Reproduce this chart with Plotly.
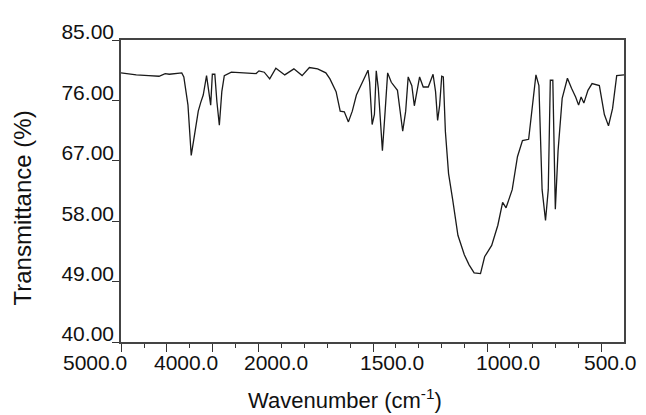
import plotly.graph_objects as go

# ---- data (wavenumber in cm-1, transmittance in %) ----
wavenumber = [5000, 4668, 4398, 4173, 4039, 3949, 3679, 3634, 3544, 3473, 3410, 3320, 3266, 3212,
              3140, 3095, 3050, 3014, 2960, 2915, 2862, 2808, 2754, 2601, 2242, 2062, 2000, 1977,
              1953, 1926, 1887, 1847, 1811, 1779, 1743, 1707, 1689, 1662, 1644, 1626, 1608, 1591,
              1573, 1549, 1522, 1515, 1504, 1494, 1486, 1477, 1459, 1447, 1436, 1420, 1393, 1370,
              1357, 1346, 1330, 1319, 1307, 1296, 1280, 1258, 1237, 1226, 1217, 1208, 1199, 1192,
              1183, 1169, 1151, 1128, 1100, 1079, 1057, 1029, 1011, 980, 953, 932, 917, 890, 867,
              845, 818, 800, 786, 773, 759, 744, 732, 723, 712, 701, 689, 671, 648, 630, 612, 599,
              588, 576, 558, 540, 508, 486, 468, 450, 432, 400]
transmittance = [80.1, 79.8, 79.7, 79.6, 80.0, 79.9, 80.1, 79.5, 75.3, 67.8, 70.5, 74.4, 75.7, 76.8,
                 79.7, 77.8, 75.3, 79.9, 79.9, 75.8, 72.3, 77.3, 79.7, 80.2, 80.1, 80.0, 80.4, 80.2,
                 79.2, 80.8, 79.8, 80.7, 79.7, 80.9, 80.7, 80.1, 79.2, 77.3, 74.4, 74.3, 72.8, 74.4,
                 76.8, 78.5, 80.5, 78.7, 72.4, 73.9, 80.4, 77.8, 68.5, 74.4, 80.1, 78.7, 77.5, 71.4,
                 74.4, 79.5, 78.2, 75.2, 77.3, 79.5, 78.0, 78.0, 79.9, 77.3, 73.0, 75.3, 79.6, 79.5,
                 71.4, 65.1, 61.2, 55.9, 53.0, 51.5, 50.3, 50.2, 52.7, 54.4, 57.4, 60.8, 60.0, 62.7,
                 67.6, 70.0, 70.2, 75.3, 79.8, 78.2, 62.7, 58.1, 62.7, 79.0, 79.0, 59.8, 68.5, 76.3,
                 79.3, 77.8, 76.5, 75.3, 76.5, 75.6, 77.5, 78.5, 78.2, 73.9, 72.2, 74.8, 79.7, 79.8]

x_major_ticks = [5000, 4000, 3000, 2000, 1500, 1000, 500]
x_tick_labels = ["5000.0", "4000.0", "", "2000.0", "1500.0", "1000.0", "500.0"]
x_minor_ticks = [4500, 3500, 2500, 1900, 1800, 1700, 1600, 1400, 1300, 1200, 1100,
                 900, 800, 700, 600]
y_ticks = [40, 49, 58, 67, 76, 85]
y_tick_labels = ["40.00", "49.00", "58.00", "67.00", "76.00", "85.00"]
x_title = "Wavenumber (cm<sup>-1</sup>)"
y_title = "Transmittance (%)"

# ---- split-scale wavenumber axis (scale changes at 2000 cm-1) ----
X_START = 5000.0
X_END = 400.0
BREAK = 2000.0
HI_SPAN = 1000.0            # cm-1 per axis unit above the break
LO_SPAN = 1000.0 / 4.96     # cm-1 per axis unit below the break


def axis_pos(wn):
    if wn >= BREAK:
        return (X_START - wn) / HI_SPAN
    return (X_START - BREAK) / HI_SPAN + (BREAK - wn) / LO_SPAN


xs = [axis_pos(w) for w in wavenumber]

# label offsets (px) relative to their tick, as in the reference
label_xshift = [-26, 19, 0, 17, 19, 21, 9]

FONT = "Liberation Sans, Arial, sans-serif"
TXT = "#111111"

fig = go.Figure()
fig.add_trace(go.Scatter(x=xs, y=transmittance, mode="lines",
                         line=dict(color="#1a1a1a", width=1.3),
                         hoverinfo="skip", showlegend=False))

for t, lab, dx in zip(x_major_ticks, x_tick_labels, label_xshift):
    if lab:
        fig.add_annotation(x=axis_pos(t), y=0, xref="x", yref="paper",
                           text=lab, showarrow=False, xanchor="center",
                           yanchor="middle", yshift=-20, xshift=dx,
                           font=dict(family=FONT, size=21, color=TXT))

fig.add_annotation(x=0.445, y=-0.188, xref="paper", yref="paper", text=x_title,
                   showarrow=False, xanchor="center", yanchor="middle",
                   font=dict(family=FONT, size=22, color=TXT))
fig.add_annotation(x=-0.195, y=0.445, xref="paper", yref="paper", text=y_title,
                   showarrow=False, xanchor="center", yanchor="middle", textangle=-90,
                   font=dict(family=FONT, size=24, color=TXT))

fig.update_layout(
    width=638, height=407,
    margin=dict(l=113, r=22, t=26, b=73),
    paper_bgcolor="white", plot_bgcolor="white",
    showlegend=False,
    xaxis=dict(range=[axis_pos(X_START), axis_pos(X_END)],
               tickmode="array",
               tickvals=[axis_pos(t) for t in x_major_ticks],
               showticklabels=False,
               ticks="outside", ticklen=8, tickwidth=1.3, tickcolor="#333",
               minor=dict(tickmode="array",
                          tickvals=[axis_pos(t) for t in x_minor_ticks],
                          ticks="outside", ticklen=4, tickwidth=1.2, tickcolor="#333"),
               showline=True, linecolor="#444", linewidth=1.6, mirror=True,
               showgrid=False, zeroline=False, fixedrange=True),
    yaxis=dict(range=[40, 85], tickmode="array", tickvals=y_ticks, ticktext=y_tick_labels,
               ticks="outside", ticklen=7, tickwidth=1.3, tickcolor="#333",
               ticklabelshift=-8, ticklabelstandoff=-6,
               tickfont=dict(family=FONT, size=21, color=TXT),
               showline=True, linecolor="#444", linewidth=1.6, mirror=True,
               showgrid=False, zeroline=False, fixedrange=True),
)

fig.write_html("out.html")
